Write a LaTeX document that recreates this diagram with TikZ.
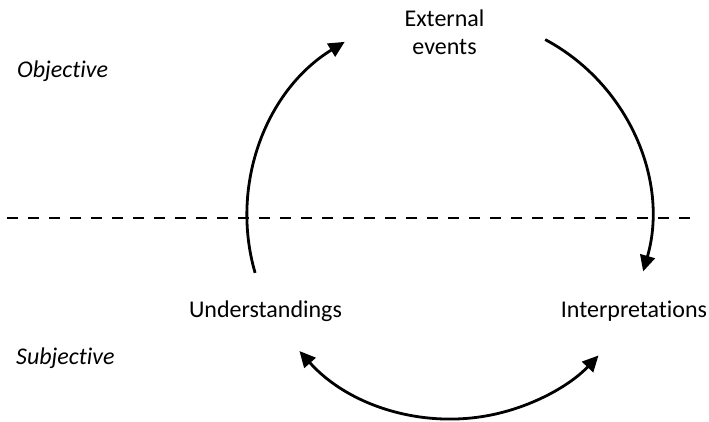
\documentclass[tikz,border=0pt]{standalone}
\usepackage{fontspec}
\setmainfont{Carlito}[Ligatures=NoCommon]
\usetikzlibrary{arrows.meta,calc}
\begin{document}
\begin{tikzpicture}[x=1pt,y=1pt,
  label/.style={inner sep=0pt, font=\fontsize{24}{28}\selectfont},
  side/.style={label, font=\fontsize{24}{28}\selectfont\itshape, anchor=base west},
  flow/.style={line width=2.8pt, -{Triangle[length=16pt,width=15pt]}},
  both/.style={line width=2.8pt, {Triangle[length=16pt,width=15pt]}-{Triangle[length=16pt,width=15pt]}},
  divider/.style={line width=2.8pt, dash pattern=on 11pt off 10pt}]
  \useasboundingbox (0,0) rectangle (709,422);

  % labels
  \node[label, anchor=base, align=center] (ext) at (444.5,367) {External\\events};
  \node[label, anchor=base] (und) at (265.5,104.5) {Understandings};
  \node[label, anchor=base] (int) at (634,104.5) {Interpretations};
  \node[side] (obj) at (17,344) {Objective};
  \node[side] (subj) at (16,57) {Subjective};

  % boundary between objective and subjective
  \coordinate (dl) at (7,204);
  \coordinate (dr) at (698,204);
  \draw[divider] (dl) -- (dr);

  % cycle arcs around a common centre
  \coordinate (c) at (451,206);
  \coordinate (ustart) at ($(c)+(196.2:204)$);
  \coordinate (estart) at ($(c)+(61.9:200)$);
  \coordinate (bstart) at ($(c)+(221.7:203)$);
  \draw[flow] (ustart) arc[start angle=196.2, end angle=121.4, radius=204];
  \draw[flow] (estart) arc[start angle=61.9, end angle=-16.1, radius=200];
  \draw[both] (bstart) arc[start angle=221.7, end angle=316.6, radius=203];
\end{tikzpicture}
\end{document}
